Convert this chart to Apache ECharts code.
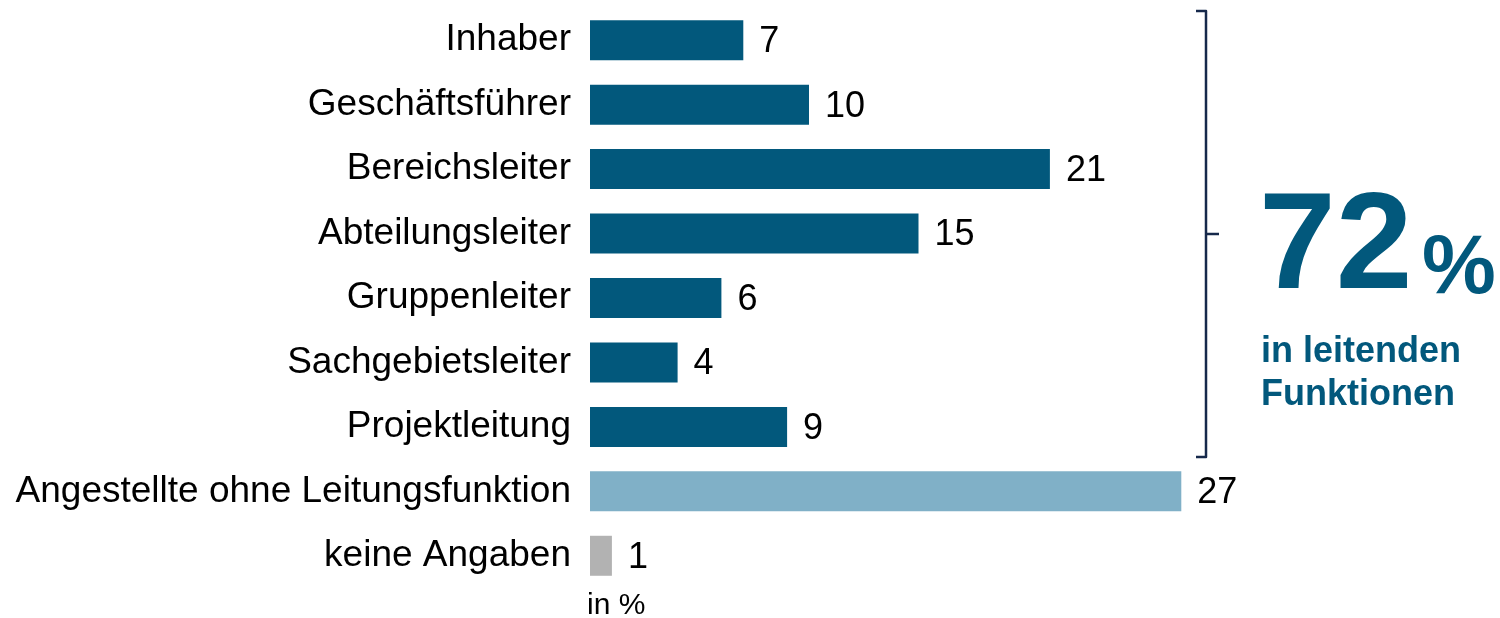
<!DOCTYPE html>
<html>
<head>
<meta charset="utf-8">
<script src="https://cdn.jsdelivr.net/npm/echarts@6/dist/echarts.min.js"></script>
<style>
  html, body { margin: 0; padding: 0; background: #fff; }
  #chart { width: 1500px; height: 618px; }
</style>
</head>
<body>
<div id="chart"></div>
<script>
// Funktion im Unternehmen, in %
const categories = [
  "Inhaber",
  "Geschäftsführer",
  "Bereichsleiter",
  "Abteilungsleiter",
  "Gruppenleiter",
  "Sachgebietsleiter",
  "Projektleitung",
  "Angestellte ohne Leitungsfunktion",
  "keine Angaben"
];
const values = [7, 10, 21, 15, 6, 4, 9, 27, 1];
const barColors = ["#02587c", "#02587c", "#02587c", "#02587c", "#02587c", "#02587c", "#02587c", "#80b0c7", "#b2b2b2"];
const summaryValue = "72";
const summaryText = ["in leitenden", "Funktionen"];
const unitNote = "in %";

const FONT = '"Liberation Sans", Arial, sans-serif';
const dark = "#02587c";

let chart = echarts.init(document.getElementById("chart"), null, { renderer: "canvas" });

let option = {
  animation: false,
  backgroundColor: "#fff",
  grid: {
    left: 590,
    top: 8,
    width: 657,
    height: 580,
    containLabel: false
  },
  xAxis: {
    type: "value",
    min: 0,
    max: 30,
    show: false
  },
  yAxis: {
    type: "category",
    inverse: true,
    data: categories,
    axisLine: { show: false },
    axisTick: { show: false },
    splitLine: { show: false },
    axisLabel: {
      margin: 19,
      fontFamily: FONT,
      fontSize: 37,
      color: "#000"
    }
  },
  series: [
    {
      type: "bar",
      barWidth: 40,
      data: values.map(function (v, i) {
        return { value: v, itemStyle: { color: barColors[i] } };
      }),
      label: {
        show: true,
        position: "right",
        distance: 16,
        offset: [0, 2],
        fontFamily: FONT,
        fontSize: 36,
        color: "#000"
      }
    }
  ],
  graphic: [
    // Klammer um die leitenden Funktionen
    {
      type: "polyline",
      shape: {
        points: [[1196, 11], [1206, 11], [1206, 457], [1196, 457]]
      },
      style: { stroke: "#16294b", lineWidth: 2.5, fill: null, lineJoin: "round" }
    },
    {
      type: "line",
      shape: { x1: 1206, y1: 234, x2: 1219, y2: 234 },
      style: { stroke: "#16294b", lineWidth: 2.5 }
    },
    {
      type: "text",
      x: 1259,
      y: 250,
      style: {
        text: summaryValue,
        fontFamily: FONT,
        fontWeight: "bold",
        fontSize: 138,
        fill: dark,
        verticalAlign: "middle"
      }
    },
    {
      type: "text",
      x: 1422,
      y: 270,
      style: {
        text: "%",
        fontFamily: FONT,
        fontWeight: "bold",
        fontSize: 83,
        fill: dark,
        verticalAlign: "middle"
      }
    },
    {
      type: "text",
      x: 1261,
      y: 352,
      style: {
        text: summaryText[0],
        fontFamily: FONT,
        fontWeight: "bold",
        fontSize: 36,
        fill: dark,
        verticalAlign: "middle"
      }
    },
    {
      type: "text",
      x: 1261,
      y: 395,
      style: {
        text: summaryText[1],
        fontFamily: FONT,
        fontWeight: "bold",
        fontSize: 36,
        fill: dark,
        verticalAlign: "middle"
      }
    },
    {
      type: "text",
      x: 587,
      y: 606,
      style: {
        text: unitNote,
        fontFamily: FONT,
        fontSize: 30,
        fill: "#000",
        verticalAlign: "middle"
      }
    }
  ]
};

chart.setOption(option);
window.addEventListener("resize", function () {
  chart.resize();
});
</script>
</body>
</html>
